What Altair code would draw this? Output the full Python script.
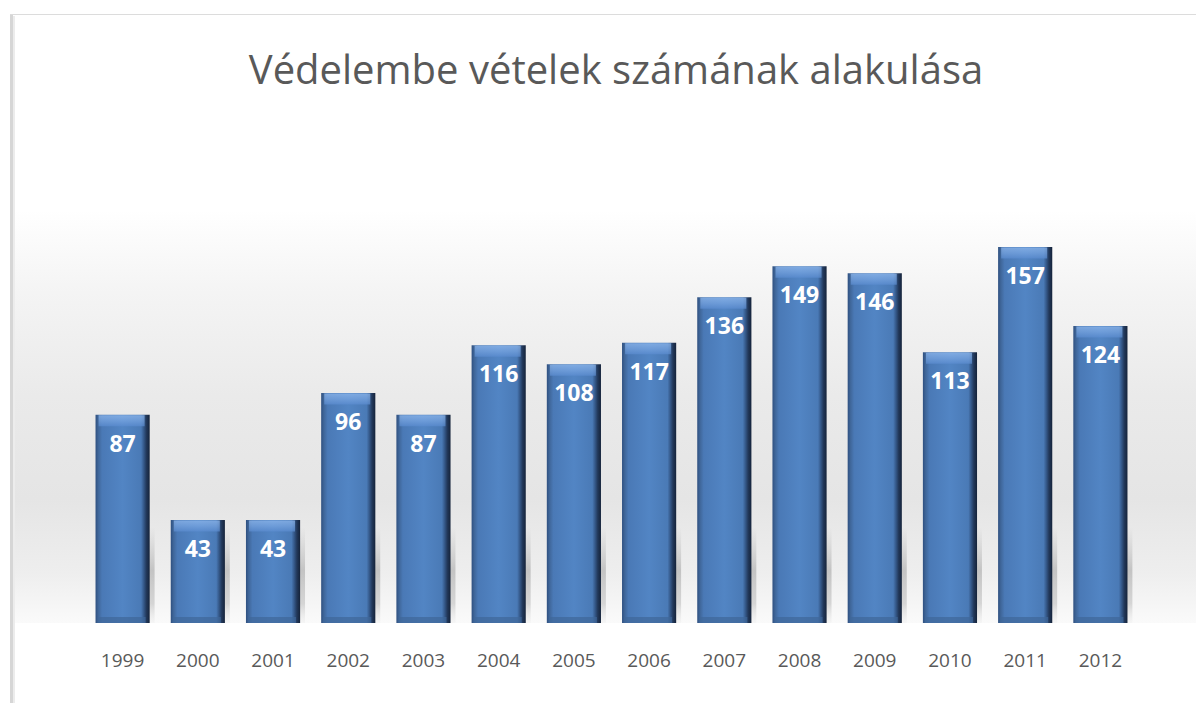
import altair as alt
import pandas as pd

years = ["1999", "2000", "2001", "2002", "2003", "2004", "2005",
         "2006", "2007", "2008", "2009", "2010", "2011", "2012"]
values = [87, 43, 43, 96, 87, 116, 108, 117, 136, 149, 146, 113, 157, 124]
title_text = "Védelembe vételek számának alakulása"

df = pd.DataFrame({"year": years, "value": values})

W, H = 1053, 479
FONT = "Open Sans"

x_enc = alt.X("year:N", sort=years,
              scale=alt.Scale(paddingInner=0.28, paddingOuter=0.14),
              axis=alt.Axis(title=None, domain=False, ticks=False, labelAngle=0,
                            labelFontSize=19, labelColor="#595959", labelFont=FONT,
                            labelPadding=28, grid=False))
y_scale = alt.Scale(domain=[0, 200], nice=False)
y_enc = alt.Y("value:Q", scale=y_scale, axis=None)

one = pd.DataFrame({"k": [0]})

# background gradient band (decoration)
bg = alt.Chart(one).mark_rect(
    color=alt.LinearGradient(
        gradient="linear", x1=0, x2=0, y1=0, y2=1,
        stops=[alt.GradientStop(color="#ffffff", offset=0),
               alt.GradientStop(color="#f4f4f4", offset=0.2),
               alt.GradientStop(color="#eaeaea", offset=0.45),
               alt.GradientStop(color="#e5e5e5", offset=0.7),
               alt.GradientStop(color="#eeeeee", offset=0.88),
               alt.GradientStop(color="#fafafa", offset=1.0)])
).encode(x=alt.value(-70), x2=alt.value(1111), y=alt.value(66), y2=alt.value(H))

# frame lines (decoration)
frame_left = alt.Chart(one).mark_rect(color="#d6d6d6").encode(
    x=alt.value(-75), x2=alt.value(-72), y=alt.value(-130), y2=alt.value(575))
frame_left2 = alt.Chart(one).mark_rect(color="#ececec").encode(
    x=alt.value(-72), x2=alt.value(-70), y=alt.value(-128), y2=alt.value(575))
frame_top = alt.Chart(one).mark_rect(color="#dcdcdc").encode(
    x=alt.value(-75), x2=alt.value(1111), y=alt.value(-130), y2=alt.value(-129))

title = alt.Chart(one).mark_text(
    text=title_text, fontSize=40, font=FONT, color="#595959",
    align="center", baseline="alphabetic"
).encode(x=alt.value(531), y=alt.value(-60))

base = alt.Chart(df)

shadow = base.transform_calculate(sh="min(datum.value, 40)").mark_bar(
    xOffset=7, size=50,
    color=alt.LinearGradient(
        gradient="linear", x1=0, x2=0, y1=0, y2=1,
        stops=[alt.GradientStop(color="rgba(190,190,190,0)", offset=0),
               alt.GradientStop(color="rgba(185,185,185,0.8)", offset=0.45),
               alt.GradientStop(color="rgba(200,200,200,0.7)", offset=0.8),
               alt.GradientStop(color="rgba(235,235,235,0.3)", offset=1.0)])
).encode(x=x_enc, y=alt.Y("sh:Q", scale=y_scale, axis=None))

bars = base.mark_bar(
    color=alt.LinearGradient(
        gradient="linear", x1=0, x2=1, y1=0, y2=0,
        stops=[alt.GradientStop(color="#2f5080", offset=0),
               alt.GradientStop(color="#3f6699", offset=0.05),
               alt.GradientStop(color="#4a79b6", offset=0.12),
               alt.GradientStop(color="#5285c4", offset=0.5),
               alt.GradientStop(color="#4a7ab6", offset=0.84),
               alt.GradientStop(color="#35598a", offset=0.89),
               alt.GradientStop(color="#22385a", offset=0.94),
               alt.GradientStop(color="#15233a", offset=1.0)])
).encode(x=x_enc, y=y_enc)

top_bevel = base.mark_tick(
    thickness=11, size=46, yOffset=6, xOffset=-1,
    color=alt.LinearGradient(
        gradient="linear", x1=0, x2=0, y1=0, y2=1,
        stops=[alt.GradientStop(color="#93bbef", offset=0),
               alt.GradientStop(color="#79a6e2", offset=0.5),
               alt.GradientStop(color="#5b8cd0", offset=1.0)])
).encode(x=x_enc, y=y_enc)

bottom_bevel = base.transform_calculate(zero="0").mark_tick(
    thickness=6, size=48, yOffset=-3, xOffset=-1, color="#3e6699"
).encode(x=x_enc, y=alt.Y("zero:Q", scale=y_scale, axis=None))

labels = base.mark_text(
    color="white", fontWeight="bold", fontSize=23, font=FONT,
    baseline="alphabetic", dy=37
).encode(x=x_enc, y=y_enc, text=alt.Text("value:Q"))

chart = alt.layer(bg, frame_left, frame_left2, frame_top, title, shadow, bars,
                  top_bevel, bottom_bevel, labels).properties(
    width=W, height=H,
    autosize="none",
    padding={"left": 77, "top": 136, "right": 58, "bottom": 80},
).configure(background="white").configure_view(strokeWidth=0, stroke=None)

chart.save("out.html", embed_options={"renderer": "svg", "actions": False})
